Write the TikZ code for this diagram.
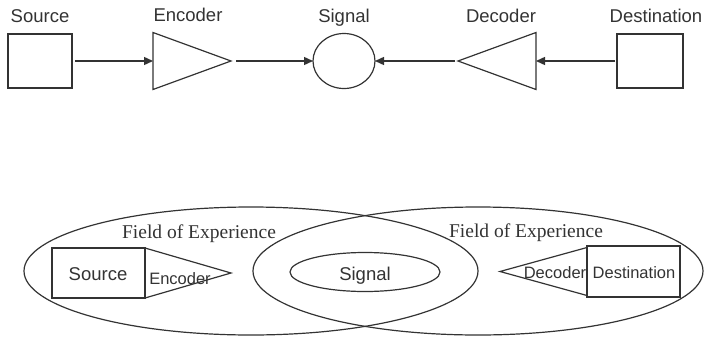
\documentclass[tikz,border=0pt]{standalone}
\usepackage{fontspec}
\setmainfont{Liberation Serif}
\setsansfont{Liberation Sans}
\usetikzlibrary{shapes.geometric, arrows.meta}

\begin{document}
\begin{tikzpicture}[
            x=1pt, y=-1pt,
            draw=black!80,
            line width=1.2pt,
            box_style/.style={rectangle, draw, inner sep=0pt, outer sep=0pt},
            tri_style/.style={isosceles triangle, isosceles triangle stretches, draw, inner sep=0pt, outer sep=0pt},
            oval_style/.style={ellipse, draw, inner sep=0pt, outer sep=0pt},
            label_style/.style={font=\sffamily\fontsize{18.5}{20}\selectfont, text=black!80, anchor=base, inner sep=0pt},
            small_label/.style={font=\sffamily\fontsize{16.5}{18}\selectfont, text=black!80, anchor=base, inner sep=0pt},
            field_style/.style={font=\rmfamily\fontsize{19.5}{21}\selectfont, text=black!80, anchor=base, inner sep=0pt},
            line/.style={-{Triangle[length=9pt, width=8pt]}, line width=1.4pt}
        ]
        \useasboundingbox (0,0) rectangle (705,338);

        % Top row: linear model
        \node (source) [box_style, minimum width=64pt, minimum height=54pt] at (40,61) {};
        \node (encoder) [tri_style, minimum width=57pt, minimum height=78pt, anchor=lower side] at (153,61) {};
        \node (signal) [oval_style, minimum width=62pt, minimum height=55pt] at (344,61) {};
        \node (decoder) [tri_style, shape border rotate=180, minimum width=57pt, minimum height=78pt, anchor=lower side] at (536,61) {};
        \node (destination) [box_style, minimum width=66pt, minimum height=54pt] at (650,61) {};

        \node (source_lbl) [label_style] at (40,22) {Source};
        \node (encoder_lbl) [label_style] at (188,21) {Encoder};
        \node (signal_lbl) [label_style] at (344,22) {Signal};
        \node (decoder_lbl) [label_style] at (501,22) {Decoder};
        \node (destination_lbl) [label_style] at (656,22) {Destination};

        \draw [line, shorten <=3pt] (source) -- (encoder.lower side);
        \draw [line, shorten <=5pt] (encoder.apex) -- (signal);
        \draw [line, shorten <=2pt] (destination) -- (decoder.lower side);
        \draw [line, shorten <=3pt] (decoder.apex) -- (signal);

        % Bottom row: fields of experience
        \node (field_left) [oval_style, minimum width=454pt, minimum height=128pt] at (251,271) {};
        \node (field_right) [oval_style, minimum width=450pt, minimum height=128pt] at (478,271) {};
        \node (signal_in) [oval_style, minimum width=150pt, minimum height=39pt] at (365,272) {};
        \node (source_in) [box_style, minimum width=93pt, minimum height=50pt] at (98.5,273) {};
        \node (encoder_in) [tri_style, minimum width=50pt, minimum height=86pt, anchor=lower side] at (source_in.east) {};
        \node (destination_in) [box_style, minimum width=93pt, minimum height=51pt] at (633.5,271.5) {};
        \node (decoder_in) [tri_style, shape border rotate=180, minimum width=48pt, minimum height=87pt, anchor=lower side] at (destination_in.west) {};

        \node (field_left_lbl) [field_style] at (199,238) {Field of Experience};
        \node (field_right_lbl) [field_style] at (526,237) {Field of Experience};
        \node (source_in_lbl) [label_style] at (98,280) {Source};
        \node (signal_in_lbl) [label_style] at (365,280) {Signal};
        \node (encoder_in_lbl) [small_label] at (180,284) {Encoder};
        \node (decoder_in_lbl) [small_label] at (555,278) {Decoder};
        \node (destination_in_lbl) [small_label] at (634,278) {Destination};

    \end{tikzpicture}
\end{document}
